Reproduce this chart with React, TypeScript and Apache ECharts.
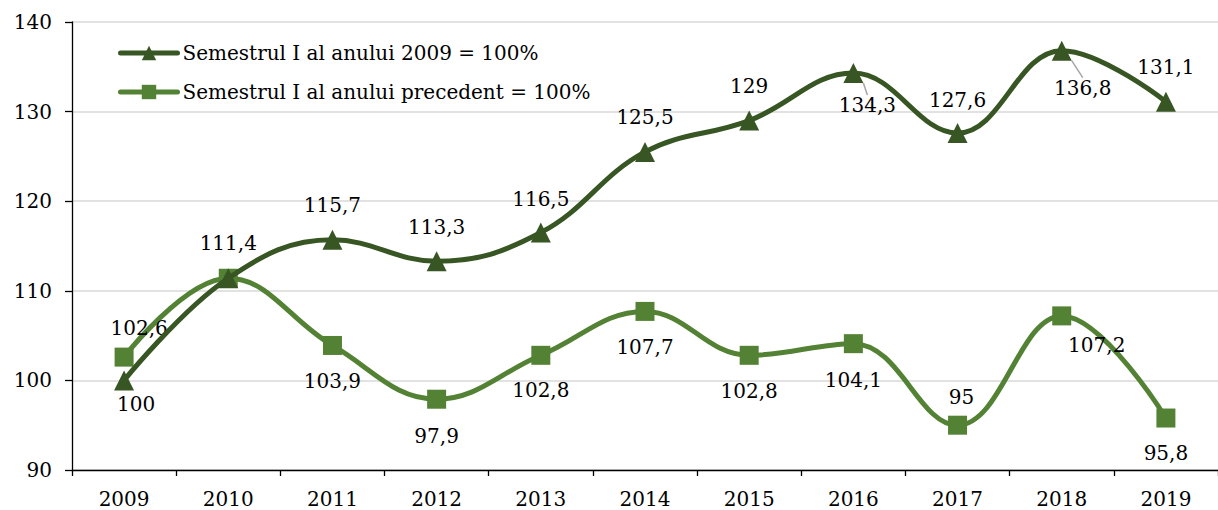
import React, { useEffect, useRef } from "react";
import * as echarts from "echarts";

const years = ["2009", "2010", "2011", "2012", "2013", "2014", "2015", "2016", "2017", "2018", "2019"];
const base2009 = [100, 111.4, 115.7, 113.3, 116.5, 125.5, 129, 134.3, 127.6, 136.8, 131.1];
const prevYear = [102.6, 111.4, 103.9, 97.9, 102.8, 107.7, 102.8, 104.1, 95, 107.2, 95.8];
const seriesNames = ["Semestrul I al anului 2009 = 100%", "Semestrul I al anului precedent = 100%"];
const yTicks = { min: 90, max: 140, interval: 10 };

// label placement (style only)
const offsA: number[][] = [[12, 24], [0, -35], [0, -35], [0, -34], [0, -34], [0, -35], [0, -35], [14, 32], [0, -33], [21, 37], [0, -35]];
const offsB: number[][] = [[15, -29], [0, 0], [0, 36], [0, 37], [0, 35], [0, 36], [0, 36], [0, 36], [4, -28], [35, 29], [0, 35]];
const leaderA = [7, 9];

const FONT = "DejaVu Serif";
const fmt = (v: number) => String(v).replace(".", ",");

export default function App() {
  const ref = useRef<HTMLDivElement>(null);
  useEffect(() => {
    if (!ref.current) return;
    const chart = echarts.init(ref.current, null, { renderer: "svg" });
    const dataA = base2009.map((v, i) => ({
      value: v,
      labelLine: { show: leaderA.includes(i) },
    }));
    const dataB = prevYear.map((v, i) => ({
      value: v,
      label: { offset: offsB[i], show: i !== 1 },
    }));
    const labelBase = {
      show: true,
      position: "inside",
      fontFamily: FONT,
      fontSize: 20,
      color: "#000",
      formatter: (p: any) => fmt(p.value),
    };
    chart.setOption({
      animation: false,
      textStyle: { fontFamily: FONT },
      grid: { left: 72, top: 22, width: 1160, height: 448, containLabel: false },
      legend: {
        orient: "vertical",
        left: 113,
        top: 38,
        itemWidth: 57,
        itemHeight: 18,
        itemGap: 19,
        lineStyle: { width: 5, cap: "round" },
        textStyle: { fontFamily: FONT, fontSize: 20, color: "#000", lineHeight: 20 },
        data: seriesNames,
      },
      xAxis: {
        type: "category",
        data: years,
        boundaryGap: true,
        axisLine: { lineStyle: { color: "#000", width: 1.3 } },
        axisTick: { show: true, length: 6, lineStyle: { color: "#000", width: 1.3 } },
        axisLabel: { fontFamily: FONT, fontSize: 20, color: "#000", margin: 19 },
        splitLine: { show: false },
      },
      yAxis: {
        type: "value",
        min: yTicks.min,
        max: yTicks.max,
        interval: yTicks.interval,
        axisLine: { show: true, lineStyle: { color: "#000", width: 1.3 } },
        axisTick: { show: true, length: 7, lineStyle: { color: "#000", width: 1.3 } },
        axisLabel: { fontFamily: FONT, fontSize: 20, color: "#000", margin: 20 },
        splitLine: { show: true, lineStyle: { color: "#d9d9d9", width: 1.5 } },
      },
      series: [
        {
          name: seriesNames[0],
          type: "line",
          smooth: 0.4,
          data: dataA,
          symbol: "triangle",
          symbolSize: 20,
          itemStyle: { color: "#375623" },
          lineStyle: { color: "#375623", width: 5 },
          label: labelBase,
          labelLine: { show: false, smooth: false, lineStyle: { color: "#a6a6a6", width: 1.5 } },
          labelLayout: (p: any) => {
            const o = offsA[p.dataIndex] || [0, 0];
            const res: any = { dx: o[0], dy: o[1] };
            if (leaderA.includes(p.dataIndex) && p.rect && p.labelRect) {
              const cx = p.rect.x + p.rect.width / 2;
              const cy = p.rect.y + p.rect.height / 2;
              const lx = p.labelRect.x + p.labelRect.width / 2 + o[0];
              const ly = p.labelRect.y + o[1] - 6;
              res.labelLinePoints = [[cx, cy], [lx, ly], [lx, ly]];
            }
            return res;
          },
          z: 3,
        },
        {
          name: seriesNames[1],
          type: "line",
          smooth: 0.4,
          data: dataB,
          symbol: "rect",
          symbolSize: 19,
          itemStyle: { color: "#548235" },
          lineStyle: { color: "#548235", width: 5 },
          label: labelBase,
          z: 2,
        },
      ],
    });
    return () => chart.dispose();
  }, []);
  return <div ref={ref} style={{ position: "absolute", left: 0, top: 0, width: 1218, height: 510 }} />;
}
